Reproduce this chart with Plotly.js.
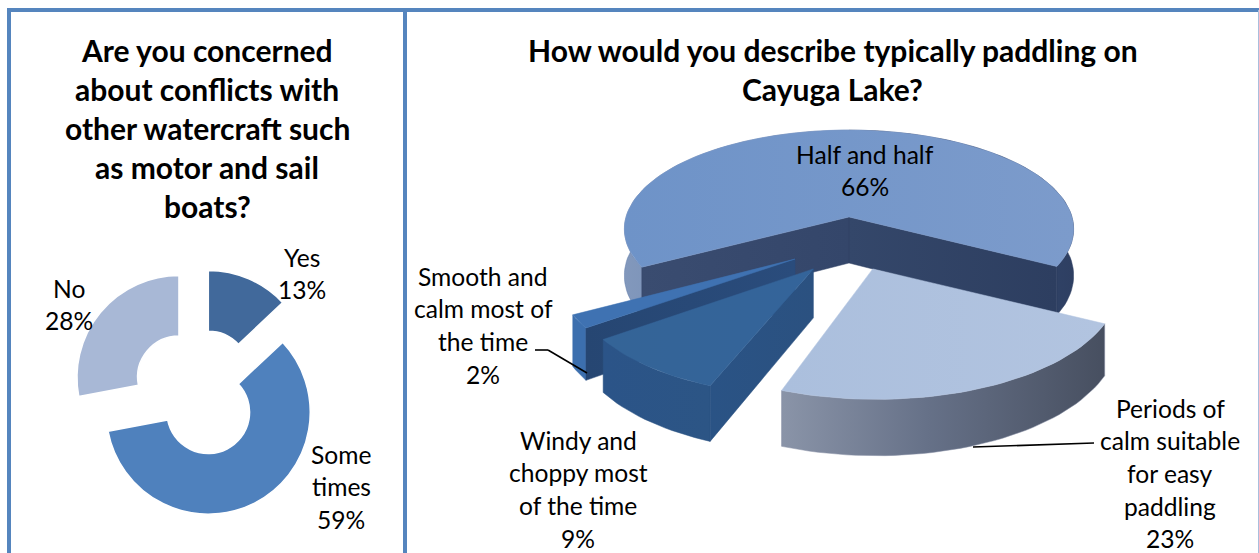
<!DOCTYPE html>
<html>
<head>
<meta charset="utf-8">
<script src="https://cdn.plot.ly/plotly-3.0.1.min.js"></script>
<style>html,body{margin:0;padding:0;background:#fff}#chart{width:1259px;height:553px}</style>
</head>
<body>
<div id="chart"></div>
<script>
// ---- data ----
const concernLabels = ['Yes', 'Some times', 'No'];
const concernValues = [13, 59, 28];
const paddlingLabels = ['Half and half', 'Periods of calm suitable for easy paddling', 'Windy and choppy most of the time', 'Smooth and calm most of the time'];
const paddlingValues = [66, 23, 9, 2];
const concernTitle = ['Are you concerned', 'about conflicts with', 'other watercraft such', 'as motor and sail', 'boats?'];
const paddlingTitle = ['How would you describe typically paddling on', 'Cayuga Lake?'];

// ---- styles / geometry ----
const FONT = 'Lato, Carlito, sans-serif';
const W = 1259, H = 553;
const concernColors = ['#41699B', '#4F81BD', '#A8B8D6'];
const concernPull = [0.23, 0.2, 0.255];

const PIE = {cx: 849, ay: 217, R: 223, Ry: 97.5, p: 0.121, h: 46, start: 241};
// per slice: offset across, offset back, radius scale, view rotation
const explode = [[0, 0, 1, 0], [0.10, -0.5, 1.025, -1.5], [-0.15, -0.5, 1, 0], [-0.23, -0.41, 1, 0]];

function project(theta, r, off, down) {
  const a = (theta + off[3]) * Math.PI / 180;
  const u = r * off[2] * Math.sin(a) + off[0], v = r * off[2] * Math.cos(a) + off[1];
  const s = 1 / (1 + PIE.p * v);
  return [PIE.cx + PIE.R * u * s, PIE.ay - PIE.Ry * v * s + (down ? PIE.h * s : 0)];
}
function arc(t0, t1, off, down) {
  const n = Math.max(2, Math.ceil(Math.abs(t1 - t0) / 2)), pts = [];
  for (let i = 0; i <= n; i++) pts.push(project(t0 + (t1 - t0) * i / n, 1, off, down));
  return pts;
}
function poly(pts, c0, c1) {
  const closed = pts.concat([pts[0]]);
  const t = {
    type: 'scatter', mode: 'lines', x: closed.map(p => p[0]), y: closed.map(p => p[1]),
    fill: 'toself', line: {width: 0.5, color: c1 || c0}, showlegend: false, hoverinfo: 'skip'
  };
  if (c1) { t.fillgradient = {type: 'horizontal', colorscale: [[0, c0], [1, c1]]}; }
  else { t.fillcolor = c0; }
  return t;
}
const topFace = (a, b, off, c0, c1) => poly([project(0, 0, off, false)].concat(arc(a, b, off, false)), c0, c1);
const outer = (a, b, off, c0, c1) => poly(arc(a, b, off, false).concat(arc(b, a, off, true)), c0, c1);
const cut = (t, off, c0, c1) => poly([project(0, 0, off, false), project(t, 1, off, false), project(t, 1, off, true), project(0, 0, off, true)], c0, c1);

// slice angles come from the values
const total = paddlingValues.reduce((a, b) => a + b, 0);
const bounds = [PIE.start];
paddlingValues.forEach(v => bounds.push(bounds[bounds.length - 1] + v / total * 360));
const [t0, t1, t2, t3, t4] = bounds;

const traces = [];
// Half and half
const hEnd = t1;
traces.push(outer(t0, 360, explode[0], '#8298BC', '#5E7BA8'));
traces.push(outer(360, hEnd, explode[0], '#3E5A88', '#2E3F62'));
traces.push(cut(t0, explode[0], '#3A4C70', '#34466A'));
traces.push(cut(hEnd, explode[0], '#34476A', '#2D3E60'));
traces.push(topFace(t0, hEnd, explode[0], '#6E93C8', '#7C9BCB'));
// Smooth and calm
traces.push(outer(t3, t4, explode[3], '#3C6FAE', '#3C6FAE'));
traces.push(cut(t3, explode[3], '#264672', '#2A4C7C'));
traces.push(topFace(t3, t4, explode[3], '#3F72B2', '#3F72B2'));
// Windy and choppy
traces.push(outer(t2, t3, explode[2], '#2B5488', '#2C5585'));
traces.push(cut(t2, explode[2], '#2A5385', '#2B5180'));
traces.push(topFace(t2, t3, explode[2], '#346497', '#34649A'));
// Periods of calm
traces.push(outer(t1, t2, explode[1], '#4A5568', '#868FA5'));
traces[traces.length - 1].fillgradient = {type: 'horizontal', colorscale: [[0, '#8A94A8'], [0.45, '#667188'], [1, '#474F60']]};
traces.push(topFace(t1, t2, explode[1], '#ABBFDD', '#B2C4E0'));

const donut = {
  type: 'pie', labels: concernLabels, values: concernValues, hole: 0.405, sort: false,
  direction: 'clockwise', rotation: 0, pull: concernPull, textinfo: 'none', showlegend: false,
  hoverinfo: 'label+percent',
  marker: {colors: concernColors, line: {color: '#FFFFFF', width: 1.5}},
  domain: {x: [71 / W, 327 / W], y: [(H - 522) / H, (H - 266) / H]}
};
traces.push(donut);

// ---- text ----
function ann(text, x, y, size, bold) {
  return {text: bold ? '<b>' + text + '</b>' : text, x: x, y: y, xref: 'x', yref: 'y', showarrow: false,
    xanchor: 'center', yanchor: 'middle', font: {family: FONT, size: size, color: '#000000'}};
}
const TS = 30, LS = 24.6;
const annotations = [];
concernTitle.forEach((s, i) => annotations.push(ann(s, 207, 49.5 + i * 39, TS, true)));
paddlingTitle.forEach((s, i) => annotations.push(ann(s, 832.5, 49.5 + i * 39, TS, true)));
const labelLines = [
  [['Yes', '13%'], 302, 257],
  [['No', '28%'], 69, 288],
  [['Some', 'times', '59%'], 341, 454],
  [['Half and half', '66%'], 865, 154],
  [['Smooth and', 'calm most of', 'the time', '2%'], 483, 276],
  [['Windy and', 'choppy most', 'of the time', '9%'], 578, 440],
  [['Periods of', 'calm suitable', 'for easy', 'paddling', '23%'], 1170, 408]
];
labelLines.forEach(([lines, x, y]) => lines.forEach((s, i) => annotations.push(ann(s, x, y + i * 32.7, LS, false))));

// ---- frame and leader lines ----
const FRAME = '#5585BE';
const seg = (x0, y0, x1, y1, color, width) => ({type: 'line', xref: 'x', yref: 'y', x0, y0, x1, y1, line: {color, width}, layer: 'above'});
const shapes = [
  seg(7, 10, W, 10, FRAME, 4),
  seg(9, 8, 9, H, FRAME, 4),
  seg(405, 8, 405, H, FRAME, 4),
  seg(1258.5, 10, 1258.5, H, '#A9BEDD', 1),
  seg(535, 350, 548, 350, '#000000', 1.6),
  seg(548, 350, 587, 373, '#000000', 1.6),
  seg(1094, 443, 973, 447, '#000000', 1.6)
];

const layout = {
  width: W, height: H, margin: {l: 0, r: 0, t: 0, b: 0},
  paper_bgcolor: '#FFFFFF', plot_bgcolor: '#FFFFFF', showlegend: false,
  xaxis: {range: [0, W], visible: false, fixedrange: true},
  yaxis: {range: [H, 0], visible: false, fixedrange: true},
  annotations: annotations, shapes: shapes
};
Plotly.newPlot('chart', traces, layout, {displayModeBar: false, responsive: false});
</script>
</body>
</html>
